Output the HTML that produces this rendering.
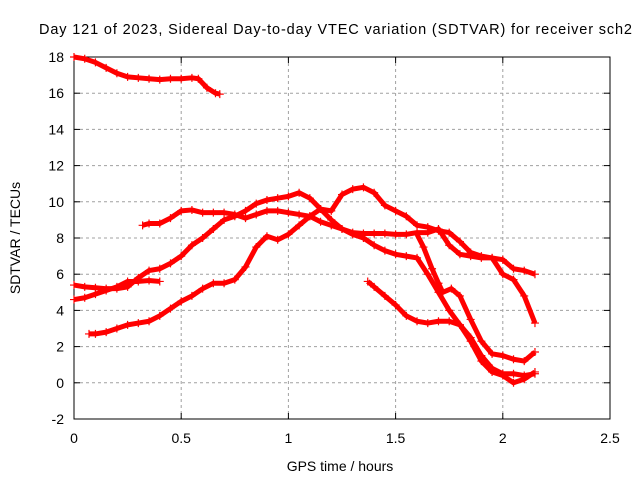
<!DOCTYPE html>
<html><head><meta charset="utf-8"><style>
body{margin:0;background:#fff}
svg{display:block;font-family:"Liberation Sans",sans-serif}
</style></head><body>
<svg id="chart" width="640" height="480">
<text x="39" y="34" font-size="14.5" textLength="593">Day 121 of 2023, Sidereal Day-to-day VTEC variation (SDTVAR) for receiver sch2</text>
<g id="grid"></g><g id="axes"></g><g id="series"></g>
<text x="340" y="471" font-size="14" text-anchor="middle">GPS time / hours</text>
<text transform="translate(20,238) rotate(-90)" font-size="14" text-anchor="middle">SDTVAR / TECUs</text>
</svg>
<script>
const xTicks=[0,0.5,1,1.5,2,2.5];
const xTickLabels=["0","0.5","1","1.5","2","2.5"];
const yTicks=[-2,0,2,4,6,8,10,12,14,16,18];
const yTickLabels=["-2","0","2","4","6","8","10","12","14","16","18"];
const sAx=[0,0.05,0.1,0.15,0.2,0.25,0.3,0.35,0.4,0.45,0.5,0.55,0.58,0.62,0.66,0.68];
const sAy=[18,17.9,17.7,17.4,17.1,16.9,16.85,16.8,16.75,16.8,16.8,16.85,16.8,16.3,16.0,15.95];
const sBx=[0.32,0.35,0.4,0.45,0.5,0.55,0.6,0.65,0.7,0.75,0.8,0.85,0.9,0.95,1.0,1.05,1.1,1.15,1.2,1.25,1.3,1.35,1.4,1.45,1.5,1.55,1.6,1.65,1.7,1.75,1.8,1.85,1.9,1.95,2.0,2.05,2.1,2.15];
const sBy=[8.7,8.8,8.8,9.1,9.5,9.55,9.4,9.4,9.4,9.3,9.1,9.3,9.5,9.5,9.4,9.3,9.2,8.9,8.7,8.5,8.3,8.25,8.25,8.25,8.2,8.2,8.3,8.3,8.5,7.6,7.1,7.0,6.9,6.9,6.8,6.3,6.2,6.0];
const sCx=[0,0.05,0.1,0.15,0.2,0.25,0.3,0.35,0.4,0.45,0.5,0.55,0.6,0.65,0.7,0.75,0.8,0.85,0.9,0.95,1.0,1.05,1.1,1.15,1.2,1.25,1.3,1.35,1.4,1.45,1.5,1.55,1.6,1.65,1.7,1.75,1.8,1.85,1.9,1.95,2.0,2.05,2.1,2.15];
const sCy=[5.4,5.3,5.25,5.2,5.2,5.3,5.8,6.2,6.3,6.6,7.0,7.6,8.0,8.5,9.0,9.2,9.5,9.9,10.1,10.2,10.3,10.5,10.2,9.6,9.5,10.4,10.7,10.8,10.5,9.8,9.5,9.2,8.7,8.6,8.4,8.3,7.8,7.2,7.0,6.9,6.0,5.7,4.8,3.3];
const sDx=[0,0.05,0.1,0.15,0.2,0.25,0.3,0.35,0.4];
const sDy=[4.6,4.7,4.9,5.1,5.3,5.6,5.6,5.65,5.6];
const sEx=[0.07,0.1,0.15,0.2,0.25,0.3,0.35,0.4,0.45,0.5,0.55,0.6,0.65,0.7,0.75,0.8,0.85,0.9,0.95,1.0,1.05,1.1,1.15,1.2,1.25,1.3,1.35,1.4,1.45,1.5,1.55,1.6,1.65,1.7,1.75,1.8,1.85,1.9,1.95,2.0,2.05,2.1,2.15];
const sEy=[2.7,2.7,2.8,3.0,3.2,3.3,3.4,3.7,4.1,4.5,4.8,5.2,5.5,5.5,5.7,6.4,7.5,8.1,7.9,8.2,8.7,9.2,9.6,9.0,8.5,8.2,8.0,7.6,7.3,7.1,7.0,6.9,6.0,5.0,4.0,3.2,2.3,1.2,0.6,0.4,0.0,0.2,0.6];
const sFx=[1.37,1.4,1.45,1.5,1.55,1.6,1.65,1.7,1.75,1.8,1.85,1.9,1.95,2.0,2.05,2.1,2.15];
const sFy=[5.6,5.3,4.8,4.3,3.7,3.4,3.3,3.4,3.4,3.2,2.5,1.5,0.8,0.5,0.5,0.4,0.5];
const sGx=[1.6,1.63,1.67,1.7,1.72,1.76,1.8,1.85,1.9,1.95,2.0,2.05,2.1,2.15];
const sGy=[8.2,7.5,6.3,5.5,5.0,5.2,4.8,3.5,2.3,1.6,1.5,1.3,1.2,1.7];
const seriesX=[sAx,sBx,sCx,sDx,sEx,sFx,sGx];
const seriesY=[sAy,sBy,sCy,sDy,sEy,sFy,sGy];

const NS="http://www.w3.org/2000/svg";
const L=74,R=610,T=57,B=419,xmin=0,xmax=2.5,ymin=-2,ymax=18;
const xs=v=>L+(v-xmin)/(xmax-xmin)*(R-L);
const ys=v=>B-(v-ymin)/(ymax-ymin)*(B-T);
function mk(tag,attrs,parent){const e=document.createElementNS(NS,tag);for(const k in attrs)e.setAttribute(k,attrs[k]);parent.appendChild(e);return e;}
const grid=document.getElementById('grid'),axes=document.getElementById('axes'),ser=document.getElementById('series');
xTicks.forEach((t,i)=>{const x=xs(t);
 if(i>0&&i<xTicks.length-1){const g=mk('line',{x1:x,x2:x,y1:T,y2:B,stroke:'#a0a0a0','stroke-dasharray':'3,3'},grid);
 
 }
 mk('line',{x1:x,x2:x,y1:B,y2:B-6,stroke:'#000'},axes);mk('line',{x1:x,x2:x,y1:T,y2:T+6,stroke:'#000'},axes);
 const tx=mk('text',{x:x,y:B+24,'font-size':14,'text-anchor':'middle'},axes);tx.textContent=xTickLabels[i];
 
 });
yTicks.forEach((t,i)=>{const y=ys(t);
 if(i>0&&i<yTicks.length-1){const g=mk('line',{x1:L,x2:R,y1:y,y2:y,stroke:'#a0a0a0','stroke-dasharray':'3,3'},grid);
 
 }
 mk('line',{x1:L,x2:L+6,y1:y,y2:y,stroke:'#000'},axes);mk('line',{x1:R,x2:R-6,y1:y,y2:y,stroke:'#000'},axes);
 const tx=mk('text',{x:L-10,y:y+5,'font-size':14,'text-anchor':'end'},axes);tx.textContent=yTickLabels[i];
 
 });
const box=mk('rect',{x:L,y:T,width:R-L,height:B-T,fill:'none',stroke:'#000'},axes);


seriesX.forEach((X,si)=>{const Y=seriesY[si];
 const g=mk('g',{},ser);
 
 
 const pts=X.map((x,i)=>xs(x)+','+ys(Y[i])).join(' ');
 mk('polyline',{points:pts,fill:'none',stroke:'#f00','stroke-width':5,'stroke-linejoin':'round'},g);
 X.forEach((x,i)=>{const px=xs(x),py=ys(Y[i]);
  const p=mk('path',{d:`M${px-4},${py}H${px+4}M${px},${py-4}V${py+4}`,stroke:'#f00','stroke-width':1.2},g);
  
  });
});
</script>
</body></html>
